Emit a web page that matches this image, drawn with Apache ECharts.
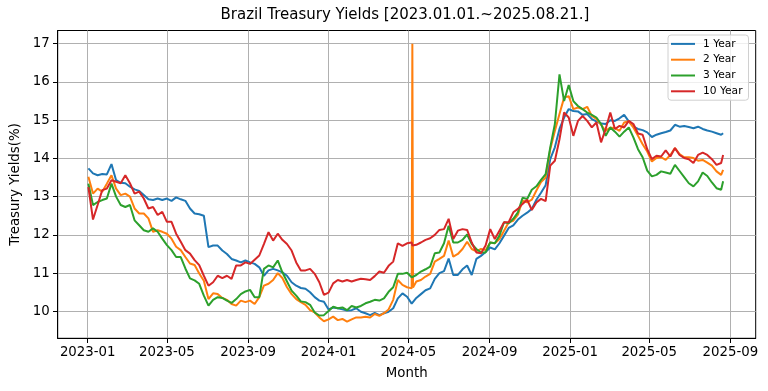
<!DOCTYPE html>
<html><head><meta charset="utf-8">
<script src="https://cdn.jsdelivr.net/npm/echarts@6/dist/echarts.min.js"></script>
<style>html,body{margin:0;padding:0;background:#fff}#c{width:768px;height:391px}</style>
</head><body><div id="c"></div>
<script>
const dates = [
'2023-01-02','2023-01-09','2023-01-16','2023-01-23','2023-01-30','2023-02-06','2023-02-13','2023-02-20','2023-02-27','2023-03-06',
'2023-03-13','2023-03-20','2023-03-27','2023-04-03','2023-04-10','2023-04-17','2023-04-24','2023-05-01','2023-05-08','2023-05-15',
'2023-05-22','2023-05-29','2023-06-05','2023-06-12','2023-06-19','2023-06-26','2023-07-03','2023-07-10','2023-07-17','2023-07-24',
'2023-07-31','2023-08-07','2023-08-14','2023-08-21','2023-08-28','2023-09-04','2023-09-11','2023-09-18','2023-09-25','2023-10-02',
'2023-10-09','2023-10-16','2023-10-23','2023-10-30','2023-11-06','2023-11-13','2023-11-20','2023-11-27','2023-12-04','2023-12-11',
'2023-12-18','2023-12-25',
'2024-01-01','2024-01-08','2024-01-15','2024-01-22','2024-01-29','2024-02-05','2024-02-12','2024-02-19','2024-02-26','2024-03-04',
'2024-03-11','2024-03-18','2024-03-25','2024-04-01','2024-04-08','2024-04-15','2024-04-22','2024-04-29','2024-05-06','2024-05-07',
'2024-05-08','2024-05-13','2024-05-20','2024-05-27','2024-06-03','2024-06-10','2024-06-17','2024-06-24','2024-07-01','2024-07-08',
'2024-07-15','2024-07-22','2024-07-29','2024-08-05','2024-08-12','2024-08-19','2024-08-26','2024-09-02','2024-09-09','2024-09-16',
'2024-09-23','2024-09-30','2024-10-07','2024-10-14','2024-10-21','2024-10-28','2024-11-04','2024-11-11','2024-11-18','2024-11-25',
'2024-12-02','2024-12-09','2024-12-16','2024-12-23','2024-12-30',
'2025-01-06','2025-01-13','2025-01-20','2025-01-27','2025-02-03','2025-02-10','2025-02-17','2025-02-24','2025-03-03','2025-03-10',
'2025-03-17','2025-03-24','2025-03-31','2025-04-07','2025-04-14','2025-04-21','2025-04-28','2025-05-05','2025-05-12','2025-05-19',
'2025-05-26','2025-06-02','2025-06-09','2025-06-16','2025-06-23','2025-06-30','2025-07-07','2025-07-14','2025-07-21','2025-07-28',
'2025-08-04','2025-08-11','2025-08-18','2025-08-21'
];

const year1 = [
13.74,13.61,13.56,13.59,13.58,13.85,13.43,13.36,13.35,13.26,13.19,13.15,13.04,12.93,12.91,12.95,12.91,12.95,12.89,12.98,
12.93,12.89,12.69,12.56,12.54,12.50,11.68,11.72,11.72,11.59,11.50,11.37,11.33,11.28,11.33,11.28,11.24,11.15,10.93,11.07,
11.11,11.07,11.02,10.93,10.76,10.67,10.61,10.59,10.50,10.37,10.28,10.25,
10.05,10.10,10.08,10.05,10.02,10.03,10.08,9.99,9.95,9.90,9.96,9.90,9.95,9.99,10.08,10.34,10.47,10.38,10.20,10.18,
10.20,10.35,10.45,10.55,10.60,10.85,11.00,11.05,11.38,10.95,10.95,11.10,11.20,10.95,11.37,11.45,11.55,11.67,11.62,11.78,
11.98,12.18,12.25,12.40,12.50,12.58,12.68,12.92,13.10,13.30,13.98,14.29,14.77,15.07,15.29,
15.24,15.23,15.14,15.16,15.03,14.97,14.91,14.90,15.00,14.98,15.05,15.14,14.97,14.83,14.77,14.74,14.68,14.56,14.62,14.66,
14.69,14.73,14.88,14.83,14.85,14.82,14.79,14.83,14.77,14.73,14.70,14.66,14.62,14.66
];

const year2 = [
13.52,13.08,13.21,13.13,13.34,13.56,13.21,13.04,13.08,13.00,12.69,12.56,12.56,12.43,12.08,12.12,12.08,12.03,11.90,11.69,
11.60,11.42,11.25,11.21,10.99,10.80,10.32,10.47,10.45,10.35,10.30,10.19,10.15,10.28,10.24,10.28,10.19,10.37,10.67,10.72,
10.82,11.00,10.87,10.63,10.45,10.32,10.24,10.17,10.03,9.97,9.84,9.74,
9.79,9.86,9.77,9.80,9.73,9.79,9.84,9.84,9.86,9.84,9.93,9.88,9.95,10.05,10.30,10.82,10.69,10.63,10.60,17.00,
10.62,10.78,10.82,10.91,10.98,11.30,11.37,11.45,11.85,11.43,11.50,11.63,11.82,11.63,11.57,11.63,11.60,11.80,11.78,11.89,
12.11,12.33,12.37,12.53,12.90,12.85,12.92,13.16,13.38,13.50,14.24,14.72,15.16,15.59,15.63,
15.29,15.33,15.29,15.35,15.11,15.03,14.88,14.72,14.81,14.79,14.72,14.94,14.97,14.81,14.59,14.37,14.18,13.92,14.01,14.03,
13.96,14.09,14.27,14.11,14.03,14.03,14.01,13.94,13.96,13.89,13.81,13.66,13.57,13.70
];

const year3 = [
13.34,12.78,12.86,12.91,12.95,13.34,13.00,12.78,12.73,12.78,12.38,12.25,12.12,12.08,12.17,12.08,11.90,11.73,11.60,11.42,
11.42,11.12,10.86,10.81,10.72,10.41,10.15,10.30,10.37,10.35,10.28,10.22,10.32,10.45,10.52,10.56,10.37,10.37,11.11,11.20,
11.15,11.33,11.02,10.78,10.54,10.41,10.26,10.24,10.17,9.97,9.89,9.90,
10.01,10.12,10.08,10.10,10.03,10.14,10.10,10.14,10.21,10.25,10.30,10.28,10.34,10.51,10.63,10.98,10.98,11.01,10.89,10.92,
10.90,10.95,11.04,11.10,11.17,11.52,11.54,11.78,12.24,11.80,11.80,11.87,12.01,11.76,11.63,11.54,11.54,11.80,11.78,11.98,
12.33,12.30,12.42,12.59,12.97,12.94,13.18,13.27,13.44,13.59,14.29,14.90,16.20,15.50,15.92,
15.50,15.37,15.29,15.20,15.14,15.07,14.90,14.59,14.81,14.70,14.57,14.70,14.81,14.55,14.24,14.03,13.68,13.53,13.57,13.66,
13.63,13.60,13.83,13.67,13.51,13.35,13.27,13.40,13.63,13.54,13.37,13.22,13.18,13.40
];

const year10 = [
13.25,12.40,12.78,13.17,13.21,13.43,13.39,13.35,13.56,13.35,13.08,13.13,12.95,12.69,12.73,12.52,12.60,12.34,12.34,12.03,
11.82,11.60,11.51,11.34,11.21,10.93,10.67,10.76,10.93,10.87,10.93,10.85,11.20,11.20,11.28,11.24,11.35,11.46,11.76,12.07,
11.85,12.03,11.87,11.76,11.59,11.28,11.07,11.07,11.11,10.98,10.76,10.43,
10.49,10.73,10.82,10.78,10.82,10.78,10.82,10.85,10.84,10.82,10.92,11.04,11.01,11.19,11.30,11.78,11.71,11.78,11.80,11.72,
11.75,11.74,11.80,11.87,11.91,12.00,12.13,12.15,12.42,11.89,12.11,12.15,12.13,11.80,11.54,11.52,11.72,12.15,11.89,12.11,
12.33,12.33,12.59,12.68,12.81,12.92,12.65,12.85,12.94,12.88,13.81,13.94,14.50,15.20,15.07,
14.59,14.98,15.11,14.98,14.81,14.94,14.42,14.77,15.20,14.77,14.85,14.81,14.98,14.90,14.65,14.62,14.24,13.98,14.07,14.05,
14.21,14.05,14.27,14.09,14.01,13.98,13.88,14.09,14.15,14.09,13.98,13.83,13.88,14.09
];

const seriesNames = ['1 Year','2 Year','3 Year','10 Year'];
const seriesColors = ['#1f77b4','#ff7f0e','#2ca02c','#d62728'];
const xTickLabels = ['2023-01','2023-05','2023-09','2024-01','2024-05','2024-09','2025-01','2025-05','2025-09'];
const yTickLabels = [10,11,12,13,14,15,16,17];

function toTs(s){ const p = s.split('-').map(Number); return Date.UTC(p[0], p[1]-1, p[2] || 1); }
function pad(n){ return (n<10?'0':'')+n; }

const allValues = [year1, year2, year3, year10];
const FONT = 'DejaVu Sans';
const xTicks = xTickLabels.map(toTs);

const chart = echarts.init(document.getElementById('c'), null, {renderer:'canvas', width:768, height:391});
chart.setOption({
  animation: false,
  backgroundColor: '#fff',
  title: {
    text: 'Brazil Treasury Yields [2023.01.01.~2025.08.21.]',
    left: 405, top: 8, textAlign: 'center', padding: 0,
    textStyle: {fontFamily: FONT, fontSize: 15, fontWeight: 'normal', color: '#000'}
  },
  grid: {left: 57.7, right: 12.3, top: 30.5, bottom: 52.7, show: true, borderColor: '#000', borderWidth: 1, backgroundColor: '#fff', containLabel: false},
  legend: {
    orient: 'vertical', left: 668, top: 35,
    icon: 'rect', itemWidth: 24, itemHeight: 2, itemGap: 4,
    padding: [3, 6, 3, 3],
    borderColor: '#d0d0d0', borderWidth: 1, borderRadius: 3,
    backgroundColor: 'rgba(255,255,255,0.8)',
    textStyle: {fontFamily: FONT, fontSize: 10.67, color: '#000', lineHeight: 11.8, padding: [0,0,0,3]},
    data: seriesNames
  },
  xAxis: {
    type: 'value',
    min: Date.UTC(2022,10,16,12), max: Date.UTC(2025,9,9,9),
    name: 'Month', nameLocation: 'middle', nameGap: 29,
    nameTextStyle: {fontFamily: FONT, fontSize: 13.33, color: '#000'},
    axisLine: {show: true, onZero: false, lineStyle: {color: '#000', width: 1}},
    axisTick: {show: true, length: 4.7, customValues: xTicks, lineStyle: {color: '#000', width: 1}},
    axisLabel: {show: true, customValues: xTicks, margin: 8, fontFamily: FONT, fontSize: 13.33, color: '#000',
      formatter: function(v){ const d = new Date(v); return d.getUTCFullYear() + '-' + pad(d.getUTCMonth()+1); }},
    splitLine: {show: true, lineStyle: {color: '#b0b0b0', width: 1}}
  },
  yAxis: {
    type: 'value', min: 9.294, max: 17.346,
    name: 'Treasury Yields(%)', nameLocation: 'middle', nameGap: 35, nameRotate: 90,
    nameTextStyle: {fontFamily: FONT, fontSize: 13.33, color: '#000'},
    axisLine: {show: true, onZero: false, lineStyle: {color: '#000', width: 1}},
    axisTick: {show: true, length: 4.7, customValues: yTickLabels, lineStyle: {color: '#000', width: 1}},
    axisLabel: {show: true, customValues: yTickLabels, margin: 8, fontFamily: FONT, fontSize: 13.33, color: '#000',
      formatter: function(v){ return String(v); }},
    splitLine: {show: true, lineStyle: {color: '#b0b0b0', width: 1}}
  },
  series: seriesNames.map(function(name, si){
    return {
      name: name, type: 'line', showSymbol: false, symbol: 'none',
      color: seriesColors[si],
      lineStyle: {width: 2, color: seriesColors[si]},
      emphasis: {disabled: true},
      data: dates.map(function(d, i){ return [toTs(d), allValues[si][i]]; })
    };
  })
});
</script>
</body></html>
